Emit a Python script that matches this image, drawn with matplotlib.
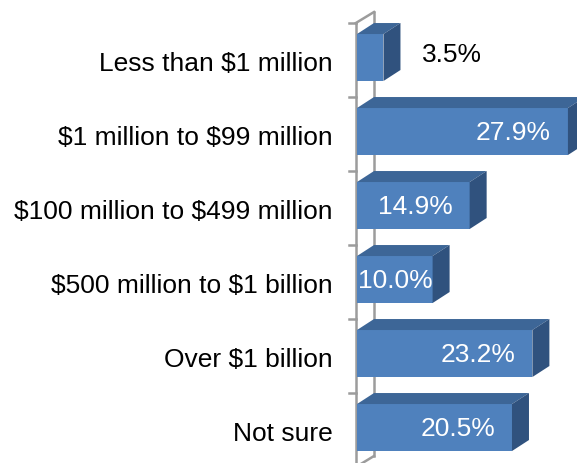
import matplotlib.pyplot as plt
from matplotlib.patches import Polygon

# survey answers (percent of respondents)
categories = ['Less than $1 million', '$1 million to $99 million',
              '$100 million to $499 million', '$500 million to $1 billion',
              'Over $1 billion', 'Not sure']
values = [3.5, 27.9, 14.9, 10.0, 23.2, 20.5]

front_col = '#4F81BD'
top_col = '#3D6697'
side_col = '#30527E'
axis_col = '#9C9C9C'

px = 7.56          # pixels per percent
row = 74.0         # pixels per category row
dx = 17 / px       # 3d depth along x (in %)
dy = 11 / row      # 3d depth along y (in rows)
bar_top, bar_bot = 0.149, 0.784

plt.rcParams['font.family'] = 'Liberation Sans'
plt.rcParams['text.parse_math'] = False   # dollar signs are literal

fig = plt.figure(figsize=(5.77, 4.64), dpi=100)
ax = fig.add_axes([0, 0, 1, 1])
ax.set_xlim(-357 / px, 220 / px)
ax.set_ylim(440 / row, -24 / row)
ax.axis('off')

n = len(categories)

# walls / axis lines
lw = 1.8
ax.plot([-0.15, -0.15], [0, n], color=axis_col, lw=lw, zorder=1)
ax.plot([dx, dx], [-dy, n - dy], color=axis_col, lw=lw, zorder=1)
ax.plot([-0.15, dx], [0, -dy], color=axis_col, lw=lw, zorder=1)
ax.plot([-0.15, dx], [n, n - dy], color=axis_col, lw=lw, zorder=1)
for i in range(n + 1):
    ax.plot([-8 / px, -0.15], [i, i], color=axis_col, lw=lw, zorder=1)

for i, (cat, v) in enumerate(zip(categories, values)):
    t = i + bar_top
    b = i + bar_bot
    front = Polygon([(0, t), (v, t), (v, b), (0, b)], closed=True,
                    facecolor=front_col, edgecolor='none', zorder=3)
    top = Polygon([(0, t), (v, t), (v + dx, t - dy), (dx, t - dy)], closed=True,
                  facecolor=top_col, edgecolor='none', zorder=3)
    side = Polygon([(v, t), (v + dx, t - dy), (v + dx, b - dy), (v, b)], closed=True,
                   facecolor=side_col, edgecolor='none', zorder=3)
    for p in (front, top, side):
        ax.add_patch(p)

    ax.text(-24 / px, i + 0.635, cat, ha='right', va='baseline',
            fontsize=19, color='black')

    lab = '%.1f%%' % v
    if v < 5:
        ax.text(v + dx + 22 / px, i + 0.514, lab, ha='left', va='baseline',
                fontsize=19, color='black', zorder=4)
    elif v - dx - 9.8 < 0:
        ax.text(0.1, i + 0.568, lab, ha='left', va='baseline',
                fontsize=19, color='white', zorder=4)
    else:
        ax.text(v - dx, i + 0.568, lab, ha='right', va='baseline',
                fontsize=19, color='white', zorder=4)

fig.savefig('out.png', dpi=100)
